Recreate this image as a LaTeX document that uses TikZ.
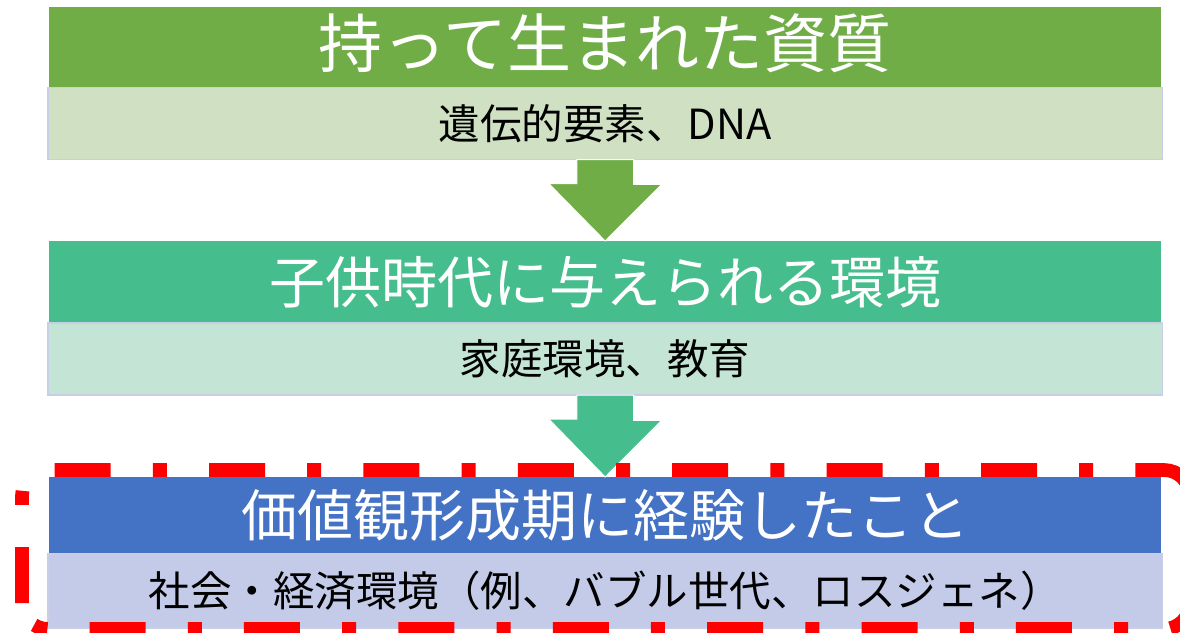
\documentclass[tikz,border=0pt]{standalone}
\usepackage{fontspec}
\newfontfamily\jpfont{Noto Sans CJK JP}
\usetikzlibrary{calc}

\definecolor{stageOneDark}{HTML}{70AD47}
\definecolor{stageOneLight}{HTML}{CFE0C3}
\definecolor{stageTwoDark}{HTML}{45BD8C}
\definecolor{stageTwoLight}{HTML}{C4E4D6}
\definecolor{stageThreeDark}{HTML}{4472C4}
\definecolor{stageThreeLight}{HTML}{C3CBE8}
\definecolor{detailLine}{HTML}{C8CEE6}

\begin{document}
\begin{tikzpicture}[x=1pt,y=-1pt,
        header/.style={anchor=north, minimum width=1111.7pt, inner sep=0pt, outer sep=0pt,
            text=white, font=\jpfont\fontsize{56}{56}\selectfont, text height=49.3pt, text depth=6.7pt},
        detail/.style={anchor=north, minimum width=1114.5pt, minimum height=72pt, inner sep=0pt, outer sep=0pt,
            draw=detailLine, line width=1.5pt, font=\jpfont\fontsize{41.5}{41.5}\selectfont,
            text height=36.5pt, text depth=5pt},
        stagearrow/.style={draw=white, line width=1pt},
        redframe/.style={red, line width=13.7pt, rounded corners=26pt,
            dash pattern=on 56pt off 42.2pt on 14pt off 42.2pt}]

    \useasboundingbox (0,0) rectangle (1180,632);
    \clip (0,0) rectangle (1180,632);

    % stage boxes
    \node [header, fill=stageOneDark, minimum height=80.5pt, font=\jpfont\fontsize{64}{64}\selectfont,
        text height=51.5pt, text depth=10.5pt] (stageOne) at (605.2,7) {持って生まれた資質};
    \node [detail, fill=stageOneLight] (detailOne) at (stageOne.south) {遺伝的要素、DNA};

    \node [header, fill=stageTwoDark, minimum height=82pt] (stageTwo) at (605.2,241) {子供時代に与えられる環境};
    \node [detail, fill=stageTwoLight] (detailTwo) at (stageTwo.south) {家庭環境、教育};

    \node [header, fill=stageThreeDark, minimum height=77pt] (stageThree) at (605.2,477) {価値観形成期に経験したこと};
    \node [detail, fill=stageThreeLight, minimum height=74pt] (detailThree) at (stageThree.south) {社会・経済環境（例、バブル世代、ロスジェネ）};

    % arrows between the stages
    \foreach \from/\to/\col in {detailOne/stageTwo/stageOneDark, detailTwo/stageThree/stageTwoDark}{%
            \draw [stagearrow, fill=\col] ($(\from.south)+(-28.35,0)$) -- ++(0,24) -- ++(-28.15,0)
                -- (\to.north) -- ++(56.5,-56.7) -- ++(-28.15,0) -- ($(\from.south)+(28.35,0)$) -- cycle;
        }

    % red frame round the third stage (top half, then bottom half)
    \draw [redframe, dash phase=0pt] (22,603) -- (22,470) -- (1190,470) -- (1190,603);
    \draw [redframe, dash phase=21.6pt] (1190,603) -- (1190,629) -- (22,629) -- (22,603);

\end{tikzpicture}
\end{document}
